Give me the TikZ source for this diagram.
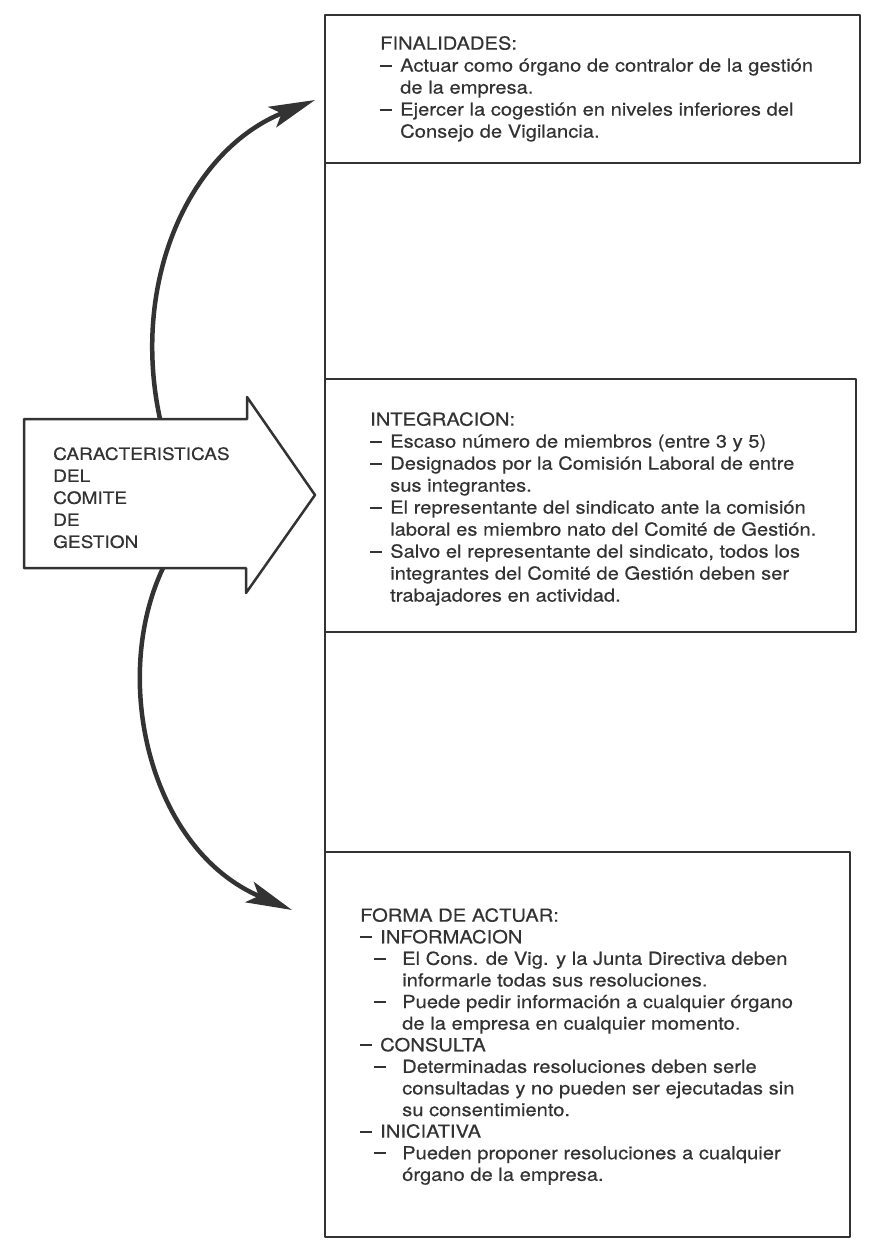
\documentclass[tikz,border=0pt]{standalone}
\usepackage{fontspec}
\setmainfont{TeX Gyre Heros}[FakeStretch=1.12, FakeBold=0.4]
\usetikzlibrary{arrows.meta}
\definecolor{ink}{HTML}{333333}
\newcommand{\dashmark}{\rule[5pt]{12pt}{2pt}}
\newcommand{\itemdash}{\makebox[20pt][l]{\dashmark}}
\newcommand{\subdash}{\hspace*{14pt}\makebox[28pt][l]{\dashmark}}
\newcommand{\cont}{\hspace*{20pt}}
\newcommand{\subcont}{\hspace*{42pt}}

\begin{document}
\begin{tikzpicture}[x=1pt, y=-1pt,
  frame/.style={draw=ink, line width=2.5pt, line join=round},
  boxtext/.style={anchor=north west, inner sep=0pt, align=left, text=ink, font=\fontsize{18}{22}\selectfont},
  bend arrow/.style={draw=ink, line width=4.5pt, -{Stealth[length=46pt,width=22pt,inset=10pt]}}]
\useasboundingbox (0,0) rectangle (872,1243);
% spine and the three boxes
\draw[frame] (325,15) -- (325,1237);
\draw[frame] (325,15) rectangle (860,163);
\draw[frame] (325,379) rectangle (856,632);
\draw[frame] (325,852) rectangle (850,1237);
% big arrow
\draw[frame] (24,419) -- (247,419) -- (247,397) -- (315,495) -- (246,593) -- (246,568) -- (24,568) -- cycle;
\node[boxtext, font=\fontsize{17}{22}\selectfont] (carac) at (53,447) {CARACTERISTICAS\\DEL\\COMITE\\DE\\GESTION};
% box texts
\node[boxtext] (fin) at (380,36) {FINALIDADES:\\
\itemdash Actuar como órgano de contralor de la gestión\\
\cont de la empresa.\\
\itemdash Ejercer la cogestión en niveles inferiores del\\
\cont Consejo de Vigilancia.};
\node[boxtext] (integ) at (370,412) {INTEGRACION:\\
\itemdash Escaso número de miembros (entre 3 y 5)\\
\itemdash Designados por la Comisión Laboral de entre\\
\cont sus integrantes.\\
\itemdash El representante del sindicato ante la comisión\\
\cont laboral es miembro nato del Comité de Gestión.\\
\itemdash Salvo el representante del sindicato, todos los\\
\cont integrantes del Comité de Gestión deben ser\\
\cont trabajadores en actividad.};
\node[boxtext, font=\fontsize{18}{21.6}\selectfont] (forma) at (360,908) {FORMA DE ACTUAR:\\
\itemdash INFORMACION\\
\subdash El Cons. de Vig. y la Junta Directiva deben\\
\subcont informarle todas sus resoluciones.\\
\subdash Puede pedir información a cualquier órgano\\
\subcont de la empresa en cualquier momento.\\
\itemdash CONSULTA\\
\subdash Determinadas resoluciones deben serle\\
\subcont consultadas y no pueden ser ejecutadas sin\\
\subcont su consentimiento.\\
\itemdash INICIATIVA\\
\subdash Pueden proponer resoluciones a cualquier\\
\subcont órgano de la empresa.};
% curved arrows
\coordinate (upfoot) at (160,419); \coordinate (uptip) at (315,100);
\coordinate (lowfoot) at (163,568); \coordinate (lowtip) at (292,910);
\draw[bend arrow] (upfoot) .. controls (130,280) and (190,150) .. (uptip);
\draw[bend arrow] (lowfoot) .. controls (110,680) and (150,850) .. (lowtip);
\end{tikzpicture}
\end{document}
